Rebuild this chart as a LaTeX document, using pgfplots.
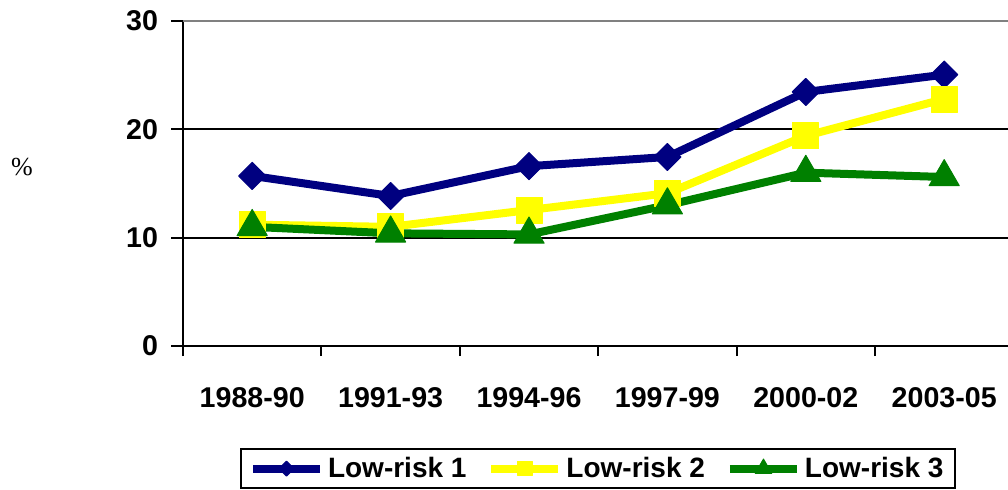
\documentclass[border=0pt]{standalone}
\usepackage{pgfplots}
\pgfplotsset{compat=1.18}
\usepackage{fontspec}
\setmainfont{Liberation Sans}
\newfontfamily\serifpct{Liberation Serif}
\definecolor{cnavy}{RGB}{0,0,128}
\definecolor{cyellow}{RGB}{255,255,0}
\definecolor{cgreen}{RGB}{0,128,0}
\begin{document}
\begin{tikzpicture}
\begin{axis}[
  at={(91.5pt,71.5pt)}, anchor=south west,
  scale only axis, width=412.5pt, height=162.5pt,
  xmin=-0.5, xmax=5.461, ymin=0, ymax=30,
  axis lines=left, axis line style={-, line width=1pt, black},
  clip=false,
  /pgf/number format/assume math mode=true,
  ticklabel style={font=\bfseries\fontsize{14.3}{16}\selectfont},
  xtick={0,1,2,3,4,5},
  xticklabels={1988-90,1991-93,1994-96,1997-99,2000-02,2003-05},
  x tick style={draw=none},
  xticklabel style={yshift=-11pt},
  extra x ticks={-0.5,0.5,1.5,2.5,3.5,4.5},
  extra x tick labels={},
  extra x tick style={x tick style={draw=black, line width=1pt}, major tick length=5pt, tick align=outside},
  ytick={0,10,20,30},
  y tick style={line width=1pt, black},
  major tick length=6pt, tick align=outside,
  yticklabel style={xshift=-3pt},
  ymajorgrids, major grid style={black, line width=1pt},
  legend style={at={(0.0691,-0.3138)}, anchor=north west, legend columns=3,
    draw=black, line width=1pt, font=\bfseries\fontsize{14}{17}\selectfont,
    inner xsep=4pt, inner ysep=2pt,
    /tikz/every even column/.append style={column sep=8.5pt}},
  legend image code/.code={\draw[mark repeat=2,mark phase=2,every mark/.append style={scale=0.55}] plot coordinates {(0pt,0pt) (16.75pt,0pt) (33.5pt,0pt)};},
]
\draw[gray, line width=1pt] (axis cs:-0.5,30) -- (axis cs:5.461,30);
\addplot[cnavy, line width=4pt, line join=round, mark=square*, mark size=4.8pt, mark options={rotate=45, fill=cnavy, draw=cnavy, line width=0.5pt}]
  coordinates {(0,15.7) (1,13.85) (2,16.6) (3,17.45) (4,23.45) (5,25.05)};
\addplot[cyellow, line width=4pt, line join=round, mark=square*, mark size=6.5pt, mark options={fill=cyellow, draw=cyellow, line width=0.5pt}]
  coordinates {(0,11.2) (1,11.0) (2,12.55) (3,14.1) (4,19.4) (5,22.8)};
\addplot[cgreen, line width=4pt, line join=round, mark=triangle*, mark size=8.7pt, mark options={fill=cgreen, draw=cgreen, line width=0.5pt}]
  coordinates {(0,11.0) (1,10.4) (2,10.3) (3,13.0) (4,16.0) (5,15.6)};
\legend{Low-risk 1,Low-risk 2,Low-risk 3}
\end{axis}
\node[font=\serifpct\fontsize{13}{15}\selectfont] at (11pt,161pt) {\%};
\pgfresetboundingbox
\path (0,0) rectangle (504pt,244.5pt);
\end{tikzpicture}
\end{document}
